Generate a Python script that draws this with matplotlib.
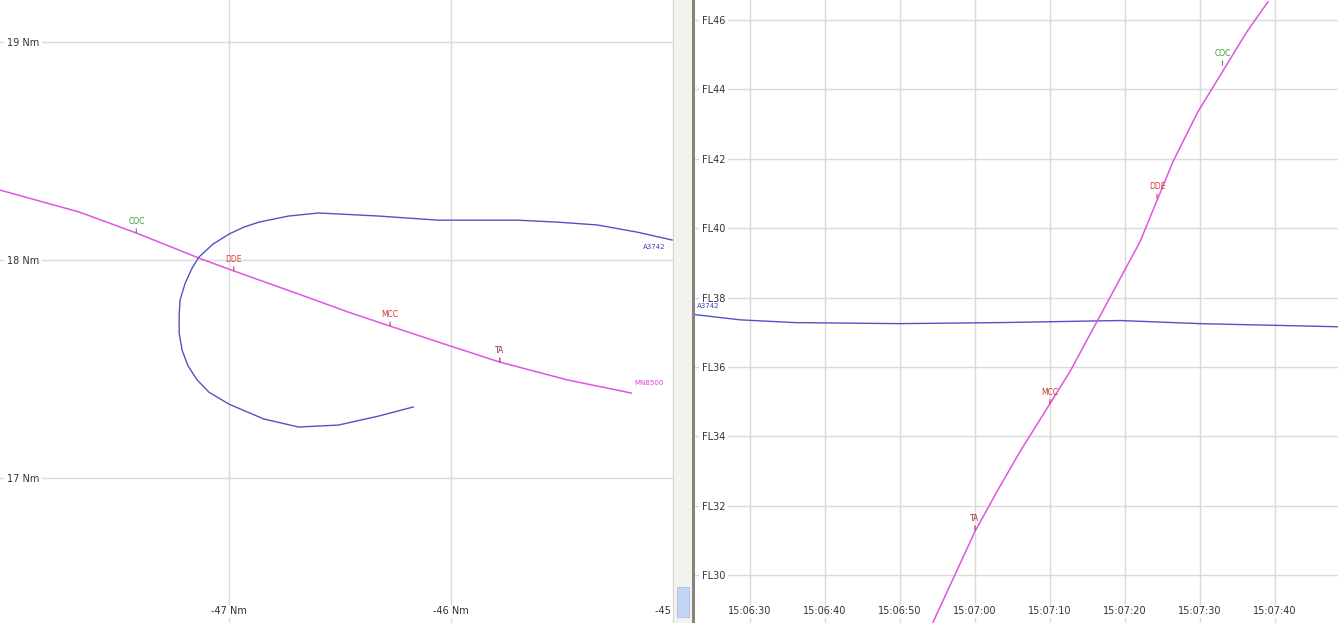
import matplotlib.pyplot as plt
from matplotlib.patches import Rectangle

# ---- plan view (left), coordinates in Nm ----
plan_x_ticks = [-47, -46, -45]
plan_x_labels = ['-47 Nm', '-46 Nm', '-45 Nm']
plan_y_ticks = [17, 18, 19]
plan_y_labels = ['17 Nm', '18 Nm', '19 Nm']

mnb_x = [-48.031, -47.673, -47.417, -47.135, -46.978, -46.686, -46.462,
         -46.274, -46.004, -45.780, -45.475, -45.188]
mnb_y = [18.321, 18.220, 18.124, 18.009, 17.950, 17.844, 17.761,
         17.697, 17.606, 17.532, 17.450, 17.390]

a37_x = [-45.004, -45.161, -45.341, -45.520, -45.700, -46.058, -46.327,
         -46.596, -46.731, -46.865, -46.933, -47.000, -47.072, -47.135,
         -47.166, -47.197, -47.220, -47.224, -47.224, -47.211, -47.184,
         -47.143, -47.090, -47.000, -46.843, -46.686, -46.507, -46.327, -46.170]
a37_y = [18.092, 18.128, 18.161, 18.174, 18.183, 18.183, 18.202,
         18.216, 18.202, 18.174, 18.151, 18.119, 18.073, 18.014,
         17.963, 17.894, 17.817, 17.748, 17.665, 17.587, 17.514,
         17.450, 17.394, 17.339, 17.271, 17.234, 17.243, 17.284, 17.326]

plan_marks = ['COC', 'DDE', 'MCC', 'TA']
plan_mark_x = [-47.417, -46.978, -46.274, -45.780]
plan_mark_y = [18.124, 17.950, 17.697, 17.532]

# ---- vertical profile (right), time in s after 15:06:00, level in FL ----
prof_t_ticks = [30, 40, 50, 60, 70, 80, 90, 100]
prof_t_labels = ['15:06:30', '15:06:40', '15:06:50', '15:07:00',
                 '15:07:10', '15:07:20', '15:07:30', '15:07:40']
prof_fl_ticks = [30, 32, 34, 36, 38, 40, 42, 44, 46]
prof_fl_labels = ['FL30', 'FL32', 'FL34', 'FL36', 'FL38', 'FL40', 'FL42', 'FL44', 'FL46']

mnb_t = [54.27, 60.0, 62.93, 66.0, 72.67, 82.0, 86.4, 89.73, 96.27, 99.07]
mnb_fl = [28.58, 31.26, 32.41, 33.56, 35.87, 39.61, 41.92, 43.36, 45.67, 46.53]

a37_t = [22.67, 28.67, 36.0, 50.0, 63.33, 79.33, 90.0, 108.4]
a37_fl = [37.51, 37.36, 37.28, 37.25, 37.28, 37.34, 37.25, 37.16]

prof_marks = ['TA', 'MCC', 'DDE', 'COC']
prof_mark_t = [60.0, 70.0, 84.27, 93.0]
prof_mark_fl = [31.3, 34.94, 40.86, 44.7]

mark_colors = {'COC': '#3a9a3a', 'DDE': '#e03838', 'MCC': '#d83030', 'TA': '#983030'}
BLUE = '#5252c8'
MAGENTA = '#e055e0'
GRID = '#dadada'

W, H = 1338, 623
fig = plt.figure(figsize=(W / 100, H / 100), dpi=100)
fig.patch.set_facecolor('white')

ax1 = fig.add_axes([0, 0, 673 / W, 1])
ax2 = fig.add_axes([695 / W, 0, 1 - 695 / W, 1])


def style_axes(ax):
    for s in ax.spines.values():
        s.set_visible(False)
    ax.grid(True, color=GRID, lw=1)
    ax.set_axisbelow(True)
    ax.tick_params(axis='both', length=0, labelsize=7, labelcolor='#333333')
    ax.tick_params(axis='y', pad=-5)
    ax.tick_params(axis='x', pad=-12)
    for lbl in ax.get_yticklabels():
        lbl.set_ha('left')
        lbl.set_bbox(dict(facecolor='white', edgecolor='none', pad=2))
    for lbl in ax.get_xticklabels():
        lbl.set_bbox(dict(facecolor='white', edgecolor='none', pad=1))


def mark(ax, name, x, y):
    c = mark_colors[name]
    ax.annotate(name, xy=(x, y), xytext=(0, 5), textcoords='offset points',
                ha='center', va='bottom', fontsize=5.5, color=c,
                arrowprops=dict(arrowstyle='-', color=c, lw=0.8,
                                shrinkA=0, shrinkB=0))


# left: plan view
ax1.plot(mnb_x, mnb_y, color=MAGENTA, lw=1.1)
ax1.plot(a37_x, a37_y, color=BLUE, lw=1.0)
for n, x, y in zip(plan_marks, plan_mark_x, plan_mark_y):
    mark(ax1, n, x, y)
ax1.annotate('A3742', xy=(a37_x[0], a37_y[0]), xytext=(-5, -5),
             textcoords='offset points', ha='right', va='center',
             fontsize=5, color='#4040c0')
ax1.annotate('MNB500', xy=(mnb_x[-1], mnb_y[-1]), xytext=(2, 7),
             textcoords='offset points', ha='left', va='center',
             fontsize=5, color='#e040e0')
ax1.set_xlim(-48.031, -45.013)
ax1.set_ylim(16.335, 19.193)
ax1.set_xticks(plan_x_ticks, plan_x_labels)
ax1.set_yticks(plan_y_ticks, plan_y_labels)
style_axes(ax1)

# right: vertical profile
ax2.plot(a37_t, a37_fl, color=BLUE, lw=1.0)
ax2.plot(mnb_t, mnb_fl, color=MAGENTA, lw=1.1)
for n, x, y in zip(prof_marks, prof_mark_t, prof_mark_fl):
    mark(ax2, n, x, y)
ax2.annotate('A3742', xy=(a37_t[0], a37_fl[0]), xytext=(1.5, 6),
             textcoords='offset points', ha='left', va='center',
             fontsize=5, color='#4040c0')
ax2.annotate('MNB500', xy=(mnb_t[0], mnb_fl[0]), xytext=(-12, 21),
             textcoords='offset points', ha='center', va='center',
             fontsize=5, color='#e040e0')
ax2.set_xlim(22.67, 108.4)
ax2.set_ylim(28.62, 46.58)
ax2.set_xticks(prof_t_ticks, prof_t_labels)
ax2.set_yticks(prof_fl_ticks, prof_fl_labels)
style_axes(ax2)

# splitter / scrollbar between the two views
fig.add_artist(Rectangle((673 / W, 0), 20 / W, 1, transform=fig.transFigure,
                         facecolor='#f4f2ec', edgecolor='none', zorder=5))
fig.add_artist(Rectangle((673 / W, 0), 1 / W, 1, transform=fig.transFigure,
                         facecolor='#d8d6cf', edgecolor='none', zorder=6))
fig.add_artist(Rectangle((692 / W, 0), 3 / W, 1, transform=fig.transFigure,
                         facecolor='#86847c', edgecolor='none', zorder=6))
fig.add_artist(Rectangle((677 / W, 6 / H), 12 / W, 30 / H, transform=fig.transFigure,
                         facecolor='#c4d4f4', edgecolor='#a8bce8', lw=0.6, zorder=6))

fig.savefig('out.png', dpi=100)
